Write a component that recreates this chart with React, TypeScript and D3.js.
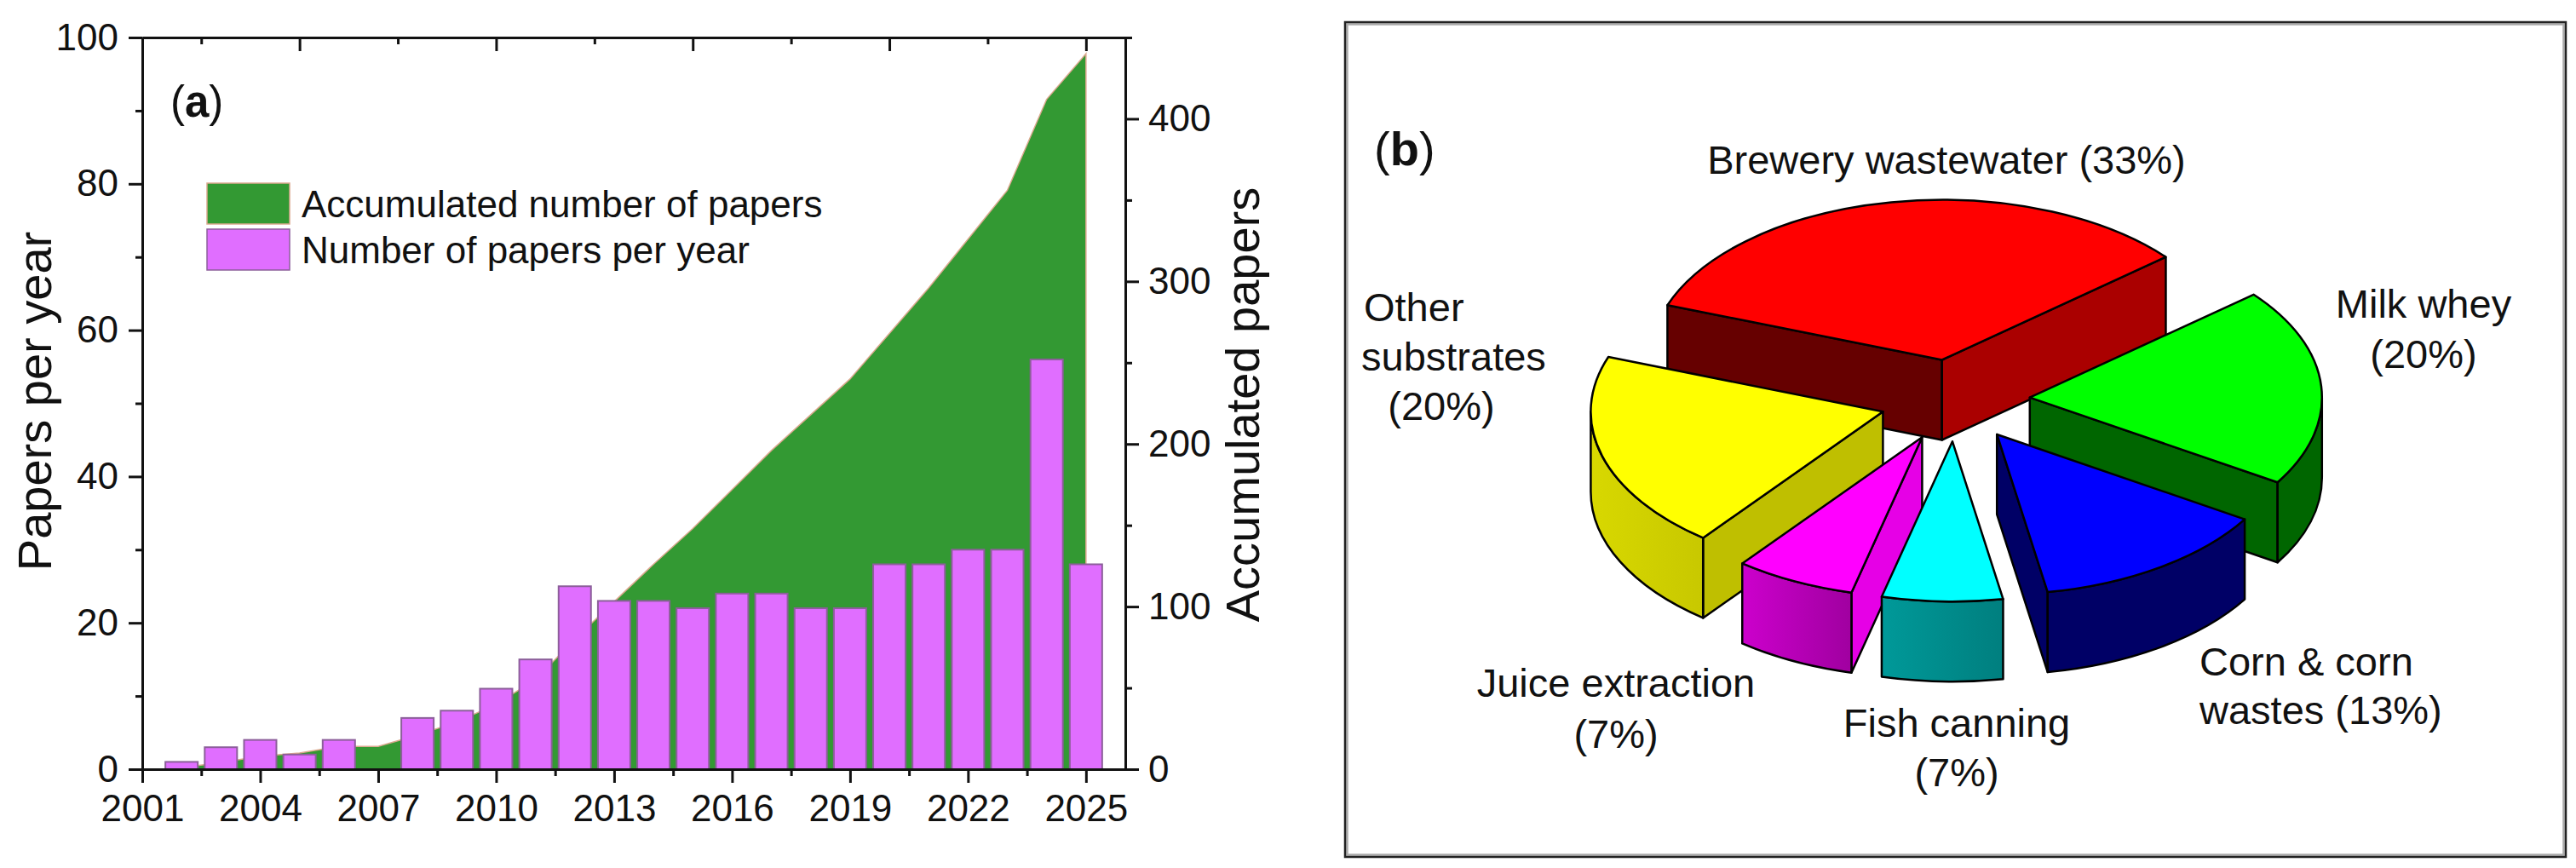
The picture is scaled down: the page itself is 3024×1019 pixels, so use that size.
import React, { useEffect, useRef } from "react";
import * as d3 from "d3";

const FONT = "'Liberation Sans', Arial, sans-serif";

// panel (a) data
const years = [2002,2003,2004,2005,2006,2007,2008,2009,2010,2011,2012,2013,2014,2015,2016,2017,2018,2019,2020,2021,2022,2023,2024,2025];
const papersPerYear = [1,3,4,2,4,0,7,8,11,15,25,23,23,22,24,24,22,22,28,28,30,30,56,28];
const accumulated = [1,4,8,10,14,14,21,29,40,55,80,103,126,148,172,196,218,240,268,296,326,356,412,440];

const xMajorBottom = [2001,2004,2007,2010,2013,2016,2019,2022,2025];
const xMinorBottom = [2002.5,2005.5,2008.5,2011.5,2014.5,2017.5,2020.5,2023.5];
const xMajorTop = [2005,2010,2015,2020,2025];
const xMinorTop = [2002.5,2007.5,2012.5,2017.5,2022.5];
const yLeftMajor = [0,20,40,60,80,100];
const yLeftMinor = [10,30,50,70,90];
const yRightMajor = [0,100,200,300,400];
const yRightMinor = [50,150,250,350,450];

const legendLabels = ["Accumulated number of papers", "Number of papers per year"];

// panel (b) data
const substrateNames = ["Brewery wastewater", "Milk whey", "Corn & corn wastes", "Fish canning", "Juice extraction", "Other substrates"];
const substrateCounts = [5,3,2,1,1,3];

const topColors = ["#FF0000","#00FF00","#0000FF","#00FFFF","#FF00FF","#FFFF00"];
const loFaceColors = ["#AA0000","#006600","#000066","none","none","none"];
const hiFaceColors = ["#660000","none","none","none","#E600E6","#BFBF00"];
const wallLeft = ["none","#006600","#000066","#009999","#CC00CC","#D8D800"];
const wallRight = ["none","#006600","#000066","#007F7F","#A000A0","#C8C800"];
const paintOrder = [0,1,5,2,4,3];

const BLACK = "#111";

export default function App() {
  const ref = useRef<SVGSVGElement | null>(null);

  useEffect(() => {
    const svg = d3.select(ref.current!);
    svg.selectAll("*").remove();

    // ---------- panel (a) ----------
    const x = d3.scaleLinear().domain([2001, 2026]).range([167, 1321]);
    const yL = d3.scaleLinear().domain([0, 100]).range([903, 44]);
    const yR = d3.scaleLinear().domain([0, 450]).range([903, 44]);

    const area = d3.area<number>()
      .x((_, i) => x(years[i]))
      .y0(yR(0))
      .y1((d) => yR(d))
      .curve(d3.curveLinear);

    svg.append("path")
      .datum(accumulated)
      .attr("d", area as any)
      .attr("fill", "#339933")
      .attr("stroke", "#dba88e")
      .attr("stroke-width", 1.5);

    const barW = 38;
    svg.append("g").selectAll("rect")
      .data(papersPerYear.map((v, i) => ({ v, yr: years[i] })).filter((d) => d.v > 0))
      .join("rect")
      .attr("x", (d) => x(d.yr) - barW / 2)
      .attr("width", barW)
      .attr("y", (d) => yL(d.v))
      .attr("height", (d) => yL(0) - yL(d.v))
      .attr("fill", "#E06EFF")
      .attr("stroke", "#8c5f9a")
      .attr("stroke-width", 2);

    const styleAxis = (g: any) => {
      g.selectAll("path").attr("stroke", BLACK).attr("stroke-width", 3);
      g.selectAll("line").attr("stroke", BLACK).attr("stroke-width", 3);
      g.selectAll("text")
        .attr("font-family", FONT)
        .attr("font-size", 44)
        .attr("fill", BLACK);
    };
    const put = (gen: any, tx: number, ty: number) => {
      const g = svg.append("g").attr("transform", `translate(${tx},${ty})`).call(gen);
      styleAxis(g);
      return g;
    };

    const fmt = (d: any) => String(d);
    const majorL = 16, minorL = 8;
    // bottom
    put(d3.axisBottom(x).tickValues(xMajorBottom).tickFormat(fmt).tickSize(majorL).tickSizeOuter(0).tickPadding(13), 0, 903)
      .selectAll("text").attr("dy", "0.72em");
    put(d3.axisBottom(x).tickValues(xMinorBottom).tickFormat(() => "").tickSize(minorL).tickSizeOuter(0), 0, 903);
    // top
    put(d3.axisTop(x).tickValues(xMajorTop).tickFormat(() => "").tickSize(-majorL).tickSizeOuter(0), 0, 44);
    put(d3.axisTop(x).tickValues(xMinorTop).tickFormat(() => "").tickSize(-minorL).tickSizeOuter(0), 0, 44);
    // left
    put(d3.axisLeft(yL).tickValues(yLeftMajor).tickFormat(fmt).tickSize(majorL).tickSizeOuter(0).tickPadding(12), 167, 0);
    put(d3.axisLeft(yL).tickValues(yLeftMinor).tickFormat(() => "").tickSize(minorL).tickSizeOuter(0), 167, 0);
    // right
    put(d3.axisRight(yR).tickValues(yRightMajor).tickFormat(fmt).tickSize(majorL).tickSizeOuter(0).tickPadding(11), 1321, 0);
    put(d3.axisRight(yR).tickValues(yRightMinor).tickFormat(() => "").tickSize(minorL).tickSizeOuter(0), 1321, 0);

    const label = (txt: string, tx: number, ty: number, anchor = "middle", size = 47) =>
      svg.append("text")
        .attr("x", tx).attr("y", ty)
        .attr("text-anchor", anchor)
        .attr("font-family", FONT)
        .attr("font-size", size)
        .attr("fill", BLACK)
        .text(txt);

    const rotated = (txt: string, bx: number, cy: number, size: number) =>
      svg.append("text")
        .attr("transform", `translate(${bx},${cy}) rotate(-90)`)
        .attr("text-anchor", "middle")
        .attr("font-family", FONT)
        .attr("font-size", size)
        .attr("fill", BLACK)
        .text(txt);

    rotated("Papers per year", 60, 471, 56);
    rotated("Accumulated papers", 1478, 475, 56);

    const panelLetter = (letter: string, tx: number, ty: number, size: number) => {
      const t = svg.append("text")
        .attr("x", tx).attr("y", ty)
        .attr("font-family", FONT)
        .attr("font-size", size)
        .attr("fill", BLACK);
      t.append("tspan").text("(");
      t.append("tspan").attr("font-weight", "bold").text(letter);
      t.append("tspan").text(")");
    };
    panelLetter("a", 200, 137, 51);

    const swatchFill = ["#339933", "#E06EFF"];
    const swatchStroke = ["#dba88e", "#8c5f9a"];
    const swatchY = [215, 269];
    legendLabels.forEach((lab, i) => {
      svg.append("rect")
        .attr("x", 243).attr("y", swatchY[i])
        .attr("width", 97).attr("height", 48)
        .attr("fill", swatchFill[i])
        .attr("stroke", swatchStroke[i])
        .attr("stroke-width", 1.5);
      label(lab, 354, swatchY[i] + 40, "start", 44);
    });

    // ---------- panel (b) ----------
    svg.append("rect")
      .attr("x", 1581.5).attr("y", 28.5)
      .attr("width", 3009.5 - 1581.5).attr("height", 1003.5 - 28.5)
      .attr("fill", "none")
      .attr("stroke", "#aaa")
      .attr("stroke-width", 2.5);
    svg.append("rect")
      .attr("x", 1579).attr("y", 26)
      .attr("width", 3012 - 1579).attr("height", 1006 - 26)
      .attr("fill", "none")
      .attr("stroke", "#222")
      .attr("stroke-width", 2.5);

    const cx = 2295, cy = 470, R = 343, k = 0.548, explode = 88, depth = 94;
    const rad = Math.PI / 180;
    const pieGen = d3.pie<number>().sort(null).startAngle(-70 * rad).endAngle(290 * rad);
    const slices = pieGen(substrateCounts);

    const P = (ax: number, ay: number, th: number): [number, number] => [
      ax + R * Math.cos(th),
      ay - R * k * Math.sin(th),
    ];

    const defs = svg.append("defs");
    substrateNames.forEach((_, i) => {
      const g = defs.append("linearGradient").attr("id", `wall${i}`);
      g.append("stop").attr("offset", "0%").attr("stop-color", wallLeft[i]);
      g.append("stop").attr("offset", "100%").attr("stop-color", wallRight[i]);
    });

    const pieG = svg.append("g")
      .attr("stroke", "#000")
      .attr("stroke-width", 2.5)
      .attr("stroke-linejoin", "round");

    const face = (ax: number, ay: number, th: number, fill: string) => {
      const p = P(ax, ay, th);
      pieG.append("path")
        .attr("d", `M${ax},${ay}L${p[0]},${p[1]}L${p[0]},${p[1] + depth}L${ax},${ay + depth}Z`)
        .attr("fill", fill);
    };

    paintOrder.forEach((i) => {
      const s = slices[i];
      const thHi = Math.PI / 2 - s.startAngle;
      const thLo = Math.PI / 2 - s.endAngle;
      const mid = (thHi + thLo) / 2;
      const ax = cx + explode * Math.cos(mid);
      const ay = cy - explode * k * Math.sin(mid);

      if (hiFaceColors[i] !== "none") face(ax, ay, thHi, hiFaceColors[i]);
      if (loFaceColors[i] !== "none") face(ax, ay, thLo, loFaceColors[i]);

      const from = Math.min(thHi, 0);
      const to = Math.max(thLo, -Math.PI);
      if (from > to) {
        const a = P(ax, ay, from);
        const b = P(ax, ay, to);
        pieG.append("path")
          .attr("d", `M${a[0]},${a[1]}A${R},${R * k} 0 0 1 ${b[0]},${b[1]}L${b[0]},${b[1] + depth}A${R},${R * k} 0 0 0 ${a[0]},${a[1] + depth}Z`)
          .attr("fill", `url(#wall${i})`);
      }

      const a = P(ax, ay, thHi);
      const b = P(ax, ay, thLo);
      pieG.append("path")
        .attr("d", `M${ax},${ay}L${a[0]},${a[1]}A${R},${R * k} 0 0 1 ${b[0]},${b[1]}Z`)
        .attr("fill", topColors[i]);
    });

    panelLetter("b", 1613, 194, 56);
    label("Brewery wastewater (33%)", 2285, 204);
    label("Other", 1601, 377, "start");
    label("substrates", 1598, 435, "start");
    label("(20%)", 1692, 493);
    label("Milk whey", 2845, 373);
    label("(20%)", 2845, 432);
    label("Juice extraction", 1897, 818);
    label("(7%)", 1897, 878);
    label("Fish canning", 2297, 865);
    label("(7%)", 2297, 923);
    label("Corn & corn", 2582, 793, "start");
    label("wastes (13%)", 2582, 850, "start");
  }, []);

  return (
    <svg
      ref={ref}
      width={3024}
      height={1019}
      viewBox="0 0 3024 1019"
      style={{ position: "absolute", left: 0, top: 0, display: "block", background: "#fff" }}
    />
  );
}
